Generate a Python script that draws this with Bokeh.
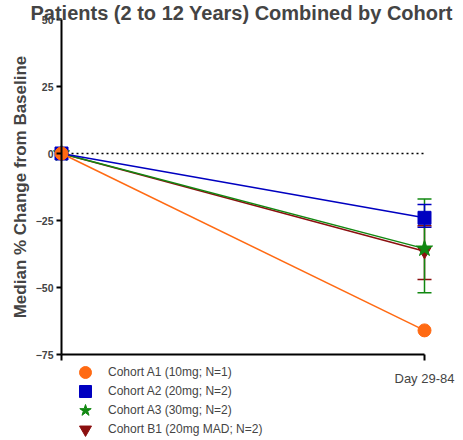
from bokeh.plotting import figure
from bokeh.models import (Range1d, LinearAxis, FixedTicker, Legend, LegendItem,
                          Whisker, TeeHead, ColumnDataSource, Label)
from bokeh.embed import file_html
from bokeh.resources import INLINE

# ---------------- data ----------------
title_text = "Patients (2 to 12 Years) Combined by Cohort"
y_label = "Median % Change from Baseline"
x_positions = [0, 1]
x_tick_labels = ["", "Day 29-84"]
y_ticks = [50, 25, 0, -25, -50, -75]
baseline_value = 0

cohort_names = ["Cohort A1 (10mg; N=1)", "Cohort A2 (20mg; N=2)",
                "Cohort A3 (30mg; N=2)", "Cohort B1 (20mg MAD; N=2)"]
a1_median = [0, -66]
a2_median = [0, -24]
a3_median = [0, -35.5]
b1_median = [0, -36.5]
a2_upper = [0, -19]
a2_lower = [0, -27.5]
a3_upper = [0, -17]
a3_lower = [0, -52]
b1_upper = [0, -27]
b1_lower = [0, -47]

FONT = "Liberation Sans"
colors = {"A1": "#FF6A13", "A2": "#0000C0", "A3": "#118811", "B1": "#8B0F0F"}

W, H = 463, 440
# pixel layout of the plotting area (axes span) inside the canvas
px_left, px_right, px_top, px_bottom = 61, 424, 19, 354
xs_per_px = (x_positions[-1] - x_positions[0]) / (px_right - px_left)
ys_per_px = (y_ticks[0] - y_ticks[-1]) / (px_bottom - px_top)
x_range = Range1d(x_positions[0] - px_left * xs_per_px,
                  x_positions[-1] + (W - px_right) * xs_per_px)
y_range = Range1d(y_ticks[-1] - (H - px_bottom) * ys_per_px,
                  y_ticks[0] + px_top * ys_per_px)

p = figure(width=W, height=H, output_backend="svg", toolbar_location=None,
           x_range=x_range, y_range=y_range,
           min_border_left=0, min_border_right=0, min_border_top=0,
           min_border_bottom=0, x_axis_type=None, y_axis_type=None)
p.outline_line_color = None
p.xgrid.visible = False
p.ygrid.visible = False
p.background_fill_color = "white"
p.border_fill_color = "white"

# axes
xaxis = LinearAxis(ticker=FixedTicker(ticks=x_positions),
                   major_label_overrides={x: l for x, l in zip(x_positions, x_tick_labels)},
                   bounds=(x_positions[0], x_positions[-1]), fixed_location=y_ticks[-1])
xaxis.axis_line_width = 2
xaxis.major_tick_line_width = 2
xaxis.major_tick_out = 6
xaxis.major_tick_in = 0
xaxis.minor_tick_line_color = None
xaxis.major_label_text_font = FONT
xaxis.major_label_text_font_size = "13px"
xaxis.major_label_standoff = 10
p.add_layout(xaxis, "below")

yaxis = LinearAxis(ticker=FixedTicker(ticks=y_ticks), fixed_location=x_positions[0],
                   bounds=(y_ticks[-1], y_ticks[0]), axis_label=y_label)
yaxis.axis_line_width = 2
yaxis.major_tick_line_width = 2
yaxis.major_tick_out = 5
yaxis.major_tick_in = 0
yaxis.minor_tick_line_color = None
yaxis.major_label_text_font = FONT
yaxis.major_label_text_font_style = "bold"
yaxis.major_label_text_font_size = "10.5px"
yaxis.major_label_standoff = 3
yaxis.axis_label_text_font = FONT
yaxis.axis_label_text_font_style = "bold"
yaxis.axis_label_text_font_size = "17px"
yaxis.axis_label_standoff = 3
p.add_layout(yaxis, "left")

# zero reference line
p.line(x=x_positions, y=[baseline_value] * len(x_positions), line_color="black",
       line_width=1.5, line_dash="2 3")

series = {
    "A1": (a1_median, None, None, "circle", 13),
    "A2": (a2_median, a2_upper, a2_lower, "square", 13),
    "A3": (a3_median, a3_upper, a3_lower, "star", 17),
    "B1": (b1_median, b1_upper, b1_lower, "inverted_triangle", 13),
}

# error bars
for key in ["B1", "A3", "A2"]:
    med, up, lo, mk, sz = series[key]
    c = colors[key]
    src = ColumnDataSource(dict(x=x_positions[1:], upper=up[1:], lower=lo[1:]))
    w = Whisker(base="x", upper="upper", lower="lower", source=src, dimension="height",
                line_color=c, line_width=1.5, level="underlay",
                upper_head=TeeHead(size=14, line_color=c, line_width=1.5),
                lower_head=TeeHead(size=14, line_color=c, line_width=1.5))
    p.add_layout(w)

rend = {}
for key in ["B1", "A3", "A2", "A1"]:
    med, up, lo, mk, sz = series[key]
    c = colors[key]
    l = p.line(x=x_positions, y=med, line_color=c, line_width=1.5)
    s = p.scatter(x=x_positions, y=med, marker=mk, size=sz, fill_color=c, line_color=c)
    rend[key] = [l, s]

# legend: one single-item legend per row so that markers can stay large
row_step = 19
first_row_center = 372
for i, (name, k) in enumerate(zip(cohort_names, ["A1", "A2", "A3", "B1"])):
    center = first_row_center + i * row_step
    lg = Legend(items=[LegendItem(label=name, renderers=[rend[k][1]])],
                location=(70, H - (center + 15)), padding=0, margin=0,
                border_line_color=None, background_fill_alpha=0,
                glyph_width=30, glyph_height=30, label_height=15, spacing=0,
                label_standoff=8, label_text_font=FONT, label_text_font_size="12px")
    p.add_layout(lg, "center")

title = Label(x=30, y=H - 1, x_units="screen", y_units="screen", text=title_text,
              text_font=FONT, text_font_style="bold", text_font_size="20px",
              text_baseline="top")
p.add_layout(title)

open("out.html", "w").write(file_html(p, INLINE))
